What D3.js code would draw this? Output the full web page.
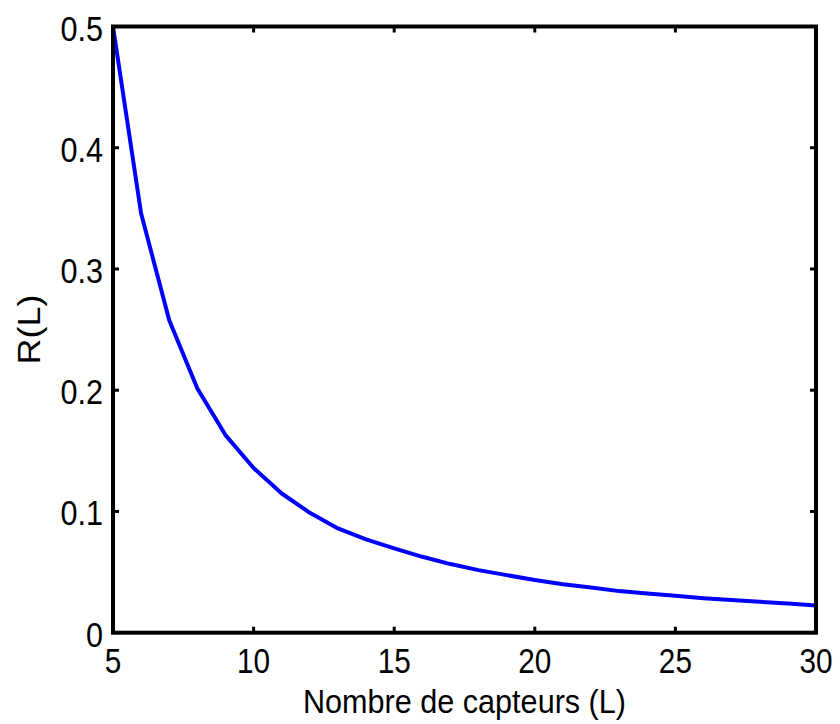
<!DOCTYPE html>
<html>
<head>
<meta charset="utf-8">
<script src="https://cdn.jsdelivr.net/npm/d3@7"></script>
<style>
  html, body { margin: 0; padding: 0; background: #fff; }
  svg { display: block; }
  text { font-family: "Liberation Sans", Arial, sans-serif; fill: #000; }
</style>
</head>
<body>
<svg id="chart" width="840" height="724"></svg>
<script>
// Number of sensors L and the corresponding ratio R(L)
const sensors = [5, 6, 7, 8, 9, 10, 11, 12, 13, 14, 15, 16, 17, 18, 19, 20,
                 21, 22, 23, 24, 25, 26, 27, 28, 29, 30];
const ratio = [0.5, 0.3457, 0.2577, 0.2014, 0.163, 0.1358, 0.1148, 0.0989, 0.086, 0.0769,
               0.0695, 0.0626, 0.0566, 0.0516, 0.0475, 0.0434, 0.0400, 0.0373, 0.0343,
               0.0324, 0.0304, 0.0285, 0.0269, 0.0255, 0.0241, 0.0225];
const xTicks = [5, 10, 15, 20, 25, 30];
const yTicks = [0, 0.1, 0.2, 0.3, 0.4, 0.5];
const xTitle = "Nombre de capteurs (L)";
const yTitle = "R(L)";

const svg = d3.select("#chart");
const plotLeft = 113, plotRight = 816, plotTop = 26.5, plotBottom = 632.7;

const x = d3.scaleLinear().domain([5, 30]).range([plotLeft, plotRight]);
const y = d3.scaleLinear().domain([0, 0.5]).range([plotBottom, plotTop]);

const tickLen = 6;
const fontSize = 36;
const squeeze = 0.85;   // narrow glyphs horizontally

// curve
const line = d3.line().x((d, i) => x(sensors[i])).y(d => y(d));
svg.append("path")
  .datum(ratio)
  .attr("fill", "none")
  .attr("stroke", "#0000ff")
  .attr("stroke-width", 4)
  .attr("stroke-linejoin", "round")
  .attr("d", line);

// inward ticks on all four sides
const g = svg.append("g").attr("stroke", "#000").attr("stroke-width", 3);
xTicks.forEach(t => {
  g.append("line").attr("x1", x(t)).attr("x2", x(t)).attr("y1", plotBottom).attr("y2", plotBottom - tickLen);
  g.append("line").attr("x1", x(t)).attr("x2", x(t)).attr("y1", plotTop).attr("y2", plotTop + tickLen);
});
yTicks.forEach(t => {
  g.append("line").attr("y1", y(t)).attr("y2", y(t)).attr("x1", plotLeft).attr("x2", plotLeft + tickLen);
  g.append("line").attr("y1", y(t)).attr("y2", y(t)).attr("x1", plotRight).attr("x2", plotRight - tickLen);
});

// frame
svg.append("rect")
  .attr("x", plotLeft).attr("y", plotTop)
  .attr("width", plotRight - plotLeft).attr("height", plotBottom - plotTop)
  .attr("fill", "none").attr("stroke", "#000").attr("stroke-width", 4);

// tick labels
svg.selectAll(".xl").data(xTicks).enter().append("text")
  .attr("transform", d => `translate(${x(d)},673) scale(${squeeze},1)`)
  .attr("text-anchor", "middle").attr("font-size", 35)
  .text(d => d);
svg.selectAll(".yl").data(yTicks).enter().append("text")
  .attr("transform", d => `translate(103,${y(d) + 14}) scale(${squeeze},1)`)
  .attr("text-anchor", "end").attr("font-size", fontSize)
  .text(d => d === 0 ? "0" : d.toFixed(1));

// axis titles
svg.append("text")
  .attr("transform", `translate(${(plotLeft + plotRight) / 2},713) scale(0.9,1)`)
  .attr("text-anchor", "middle").attr("font-size", 34)
  .text(xTitle);
svg.append("text")
  .attr("transform", `translate(40,${(plotTop + plotBottom) / 2}) scale(${squeeze},1) rotate(-90)`)
  .attr("text-anchor", "middle").attr("font-size", fontSize)
  .text(yTitle);
</script>
</body>
</html>
